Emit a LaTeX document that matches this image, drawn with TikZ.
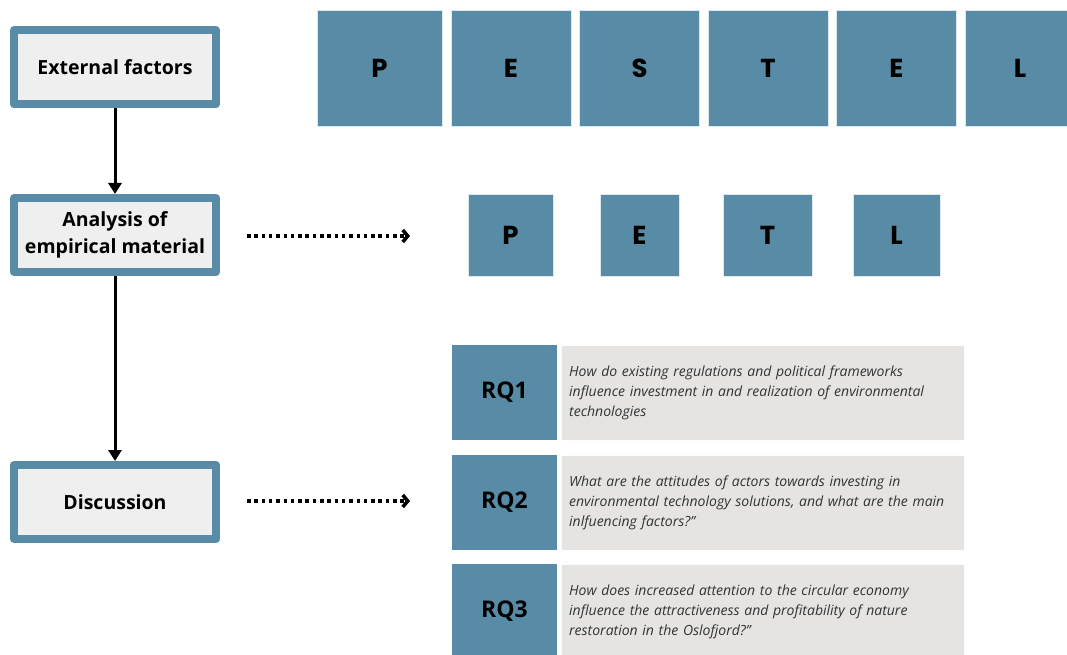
\documentclass[tikz,border=0pt]{standalone}
\usepackage{fontspec}
\setmainfont{Open Sans}
\newfontfamily\pestfont{Poppins}
\usetikzlibrary{arrows.meta}
\hyphenpenalty=10000
\definecolor{teal}{RGB}{88,140,166}
\definecolor{lightgray}{RGB}{239,239,239}
\definecolor{qgray}{RGB}{229,228,227}
\tikzset{
  stepbox/.style={draw=teal, line width=8pt, fill=lightgray, minimum width=202pt, minimum height=74pt,
    align=center, font=\fontsize{19.5}{27}\selectfont\bfseries, inner sep=0pt},
  letterbox/.style={fill=teal, draw=white!80!teal, line width=.6pt, minimum height=#1, inner sep=0pt,
    font=\pestfont\fontsize{26}{26}\selectfont\bfseries},
  rqbox/.style={fill=teal, minimum width=105pt, minimum height=95pt, inner sep=0pt,
    font=\fontsize{23}{23}\selectfont\bfseries},
  qbox/.style={fill=qgray, draw=white!90!qgray, minimum width=403pt, minimum height=95pt, inner sep=0pt},
  qtext/.style={anchor=west, text width=385pt, align=left, inner sep=0pt,
    font=\fontsize{14}{20}\selectfont\itshape, text=black!80},
  flow/.style={line width=3pt, -{Triangle[length=11pt,width=13pt]}},
  dotflow/.style={line width=3.5pt, dash pattern=on 3.5pt off 3.8pt, -{Straight Barb[length=5pt,width=12pt]}}
}
\begin{document}
\begin{tikzpicture}[x=1pt, y=-1pt, line join=round]
\useasboundingbox (0,0) rectangle (1067,655);
\clip (0,0) rectangle (1067,655);
% left column
\node[stepbox] (ext) at (115,67.5) {External factors};
\node[stepbox] (ana) at (115,235) {Analysis of\\empirical material};
\node[stepbox] (disc) at (115,502) {Discussion};
\draw[flow] (ext) -- (ana);
\draw[flow] (ana) -- (disc);
% PESTEL row
\foreach \l/\x/\w [count=\i] in {P/379.5/125, E/511/120, S/639.5/120, T/768/120, E/896.5/120, L/1020/110}{
\node[letterbox=116pt, minimum width=\w pt] (pe\i) at (\x,68) {\l};
}
% selected factors
\foreach \l/\x/\w [count=\i] in {P/510.5/85, E/639.5/79, T/767.5/89, L/896.5/87}{
\node[letterbox=82pt, minimum width=\w pt] (pa\i) at (\x,235) {\l};
}
\coordinate (d1s) at (247,236); \coordinate (d1e) at (410,236);
\coordinate (d2s) at (247,501); \coordinate (d2e) at (410,501);
\draw[dotflow] (d1s) -- (d1e);
\draw[dotflow] (d2s) -- (d2e);
% research questions
\foreach \y/\t [count=\i] in {392.5/{How do existing regulations and political frameworks influence investment in and realization of environmental technologies},
  502.5/{What are the attitudes of actors towards investing in environmental technology solutions, and what are the main inlfuencing factors?''},
  611.5/{How does increased attention to the circular economy influence the attractiveness and profitability of nature restoration in the Oslofjord?''}}{
\node[rqbox] (rq\i) at (504.5,\y) {RQ\i};
\node[qbox] (qb\i) at (762.5,\y) {};
\node[qtext] (q\i) at (569,\y) {\t};
}
\end{tikzpicture}
\end{document}
